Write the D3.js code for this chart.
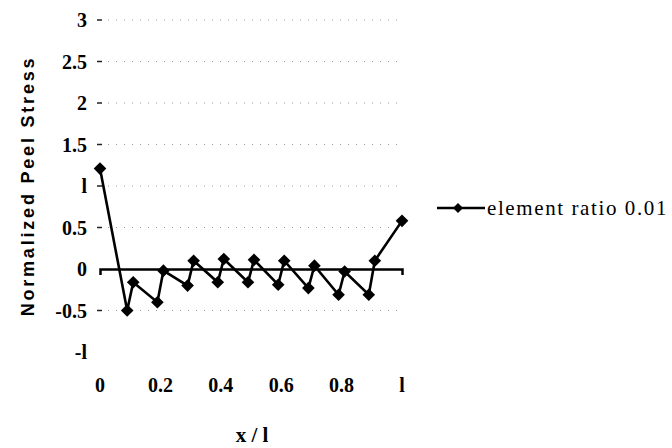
<!DOCTYPE html>
<html lang="en">
<head>
<meta charset="utf-8">
<title>Normalized Peel Stress</title>
<script src="https://cdnjs.cloudflare.com/ajax/libs/d3/7.8.5/d3.min.js"></script>
<style>
  body { margin:0; background:#fff; }
  text { fill:#000; }
</style>
</head>
<body>
<svg id="chart" width="672" height="448"></svg>
<script>
// data
var xPos = [0, 0.09, 0.11, 0.19, 0.21, 0.29, 0.31, 0.39, 0.41, 0.49, 0.51,
            0.59, 0.61, 0.69, 0.71, 0.79, 0.81, 0.89, 0.91, 1];
var stress = [1.21, -0.5, -0.16, -0.4, -0.02, -0.2, 0.1, -0.16, 0.12, -0.16, 0.11,
              -0.19, 0.1, -0.23, 0.04, -0.31, -0.03, -0.31, 0.1, 0.58];
var xTicks = [0, 0.2, 0.4, 0.6, 0.8, 1];
var yTicks = [-1, -0.5, 0, 0.5, 1, 1.5, 2, 2.5, 3];
var seriesName = "element ratio 0.01";

var svg = d3.select("#chart");
var pLeft = 100, pRight = 402, pTop = 20, pBottom = 352;

var x = d3.scaleLinear().domain([0, 1]).range([pLeft, pRight]);
var y = d3.scaleLinear().domain([-1, 3]).range([pBottom, pTop]);

var serif = "'Liberation Serif', 'Times New Roman', serif";
var gridVals = yTicks.filter(function(d){ return d != -1 && d != 0; });

// dotted gridlines (no line at -1 and 0)
svg.append("g").selectAll("line")
  .data(gridVals)
  .enter().append("line")
  .attr("x1", pLeft + 8).attr("x2", pRight - 4)
  .attr("y1", function(d){ return y(d); }).attr("y2", function(d){ return y(d); })
  .attr("stroke", "#999").attr("stroke-width", 1)
  .attr("stroke-dasharray", "1,7");

// little dashes at left of the gridlines
svg.append("g").selectAll("line")
  .data(gridVals)
  .enter().append("line")
  .attr("x1", pLeft - 3).attr("x2", pLeft + 2)
  .attr("y1", function(d){ return y(d); }).attr("y2", function(d){ return y(d); })
  .attr("stroke", "#222").attr("stroke-width", 1.5);

// y tick labels
svg.append("g").selectAll("text")
  .data(yTicks)
  .enter().append("text")
  .attr("x", 87)
  .attr("y", function(d){ return y(d) + 7; })
  .attr("text-anchor", "end")
  .attr("font-family", serif).attr("font-size", "20px").attr("font-weight", "bold")
  .text(function(d){ return d == 1 ? "l" : (d == -1 ? "-l" : d); });

// x axis at y = 0, only outer ticks
var xAxis = d3.axisBottom(x).tickValues(xTicks).tickSizeInner(0).tickSizeOuter(6).tickFormat("");
var gx = svg.append("g").attr("transform", "translate(0," + y(0) + ")").call(xAxis);
gx.select(".domain").attr("stroke", "#000").attr("stroke-width", 2.5);

// x tick labels at the bottom
svg.append("g").selectAll("text")
  .data(xTicks)
  .enter().append("text")
  .attr("x", function(d){ return x(d); })
  .attr("y", 392)
  .attr("text-anchor", "middle")
  .attr("font-family", serif).attr("font-size", "20px").attr("font-weight", "bold")
  .text(function(d){ return d == 1 ? "l" : d; });

// series line
var pts = xPos.map(function(d, i){ return [d, stress[i]]; });
var line = d3.line().x(function(d){ return x(d[0]); }).y(function(d){ return y(d[1]); });
svg.append("path").datum(pts)
  .attr("d", line)
  .attr("fill", "none").attr("stroke", "#000").attr("stroke-width", 2.6);

var diamond = d3.symbol().type(d3.symbolSquare).size(80);
svg.append("g").selectAll("path")
  .data(pts)
  .enter().append("path")
  .attr("d", diamond)
  .attr("transform", function(d){ return "translate(" + x(d[0]) + "," + y(d[1]) + ") rotate(45)"; })
  .attr("fill", "#000");

// y axis title
svg.append("text")
  .attr("transform", "translate(34,186) rotate(-90)")
  .attr("text-anchor", "middle")
  .attr("font-family", "'Liberation Sans', Arial, sans-serif")
  .attr("font-size", "18px").attr("font-weight", "bold")
  .attr("letter-spacing", "2.8px")
  .text("Normalized Peel Stress");

// x axis title
svg.append("text")
  .attr("x", 252).attr("y", 442)
  .attr("text-anchor", "middle")
  .attr("font-family", serif).attr("font-size", "21px").attr("font-weight", "bold")
  .text("x / l");

// legend
var lg = svg.append("g").attr("transform", "translate(437,208)");
lg.append("line").attr("x1", 0).attr("x2", 48).attr("y1", 0).attr("y2", 0)
  .attr("stroke", "#000").attr("stroke-width", 2.6);
lg.append("path").attr("d", d3.symbol().type(d3.symbolSquare).size(50))
  .attr("transform", "translate(21,0) rotate(45)").attr("fill", "#000");
lg.append("text").attr("x", 50).attr("y", 7)
  .attr("font-family", serif).attr("font-size", "21px")
  .attr("letter-spacing", "1.6px")
  .text(seriesName);
</script>
</body>
</html>
